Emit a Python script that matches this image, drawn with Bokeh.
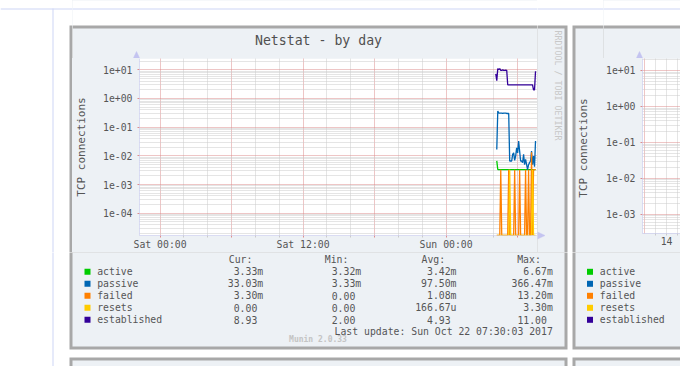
from math import pi
from bokeh.plotting import figure
from bokeh.layouts import row, column
from bokeh.core.properties import value
from bokeh.models import (Range1d, LinearScale, FixedTicker, Arrow, CustomJSTickFormatter)
from bokeh.embed import file_html
from bokeh.resources import INLINE

nan = float("nan")

# ---------------- data ----------------
series_names = ["active", "passive", "failed", "resets", "established"]
series_colors = ["#00CC00", "#0066B3", "#FF8000", "#FFCC00", "#330099"]

# 5-minute samples, hours since Sat 00:00 (last sample Sun 07:30)
sample_hours = [28.0 + 10 / 60 + 5 / 60 * i for i in range(41)]

active = [nan, 6.67e-3, 3.33e-3, 3.33e-3, 3.33e-3, 3.33e-3, 3.33e-3, 3.33e-3, 3.33e-3, 3.33e-3,
          3.33e-3, 3.33e-3, 3.33e-3, 3.33e-3, 3.33e-3, 3.33e-3, 3.33e-3, 3.33e-3, 3.33e-3, 3.33e-3,
          3.33e-3, 3.33e-3, 3.32e-3, 3.33e-3, 3.33e-3, 3.33e-3, 3.33e-3, 3.33e-3, 3.33e-3, 3.33e-3,
          3.33e-3, 3.33e-3, 3.33e-3, 3.33e-3, 3.33e-3, 3.33e-3, 3.33e-3, 3.33e-3, 3.33e-3, 3.33e-3,
          3.33e-3]
passive = [nan, 0.0166, 0.366, 0.31, 0.31, 0.31, 0.31, 0.30, 0.31, 0.31, 0.31, 0.30, 0.30, 0.30,
           0.0066, 0.0066, 0.0066, 0.0112, 0.0127, 0.0069, 0.0098, 0.019, 0.0127, 0.033, 0.0146,
           0.0066, 0.0066, 0.0058, 0.0112, 0.0049, 0.0075, 0.0050, 0.00333, 0.0049, 0.0058,
           0.0066, 0.0146, 0.0049, 0.0098, 0.0042, 0.03303]
failed = [nan, 0, 0, 0, 0, 3.3e-3, 0, 0, 0, 0, 0, 0, 0, 3.3e-3,
          0, 0, 0, 0, 0, 3.3e-3, 0, 0, 0, 0, 3.3e-3, 0, 0,
          0, 0, 0, 3.3e-3, 0, 0, 3.3e-3, 0, 0, 13.2e-3, 0, 3.3e-3, 3.3e-3, 3.3e-3]
resets = [nan, 0, 0, 0, 0, 0, 0, 0, 0, 0, 0, 0, 0, 0,
          3.3e-3, 0, 0, 0, 0, 0, 0, 0, 0, 0, 0, 0, 0,
          0, 0, 0, 0, 0, 0, 0, 0, 0, 0, 3.3e-3, 0, 0, 0]
established = [7.2, 4.2, 11.0, 10.2, 11.0, 9.6, 9.6, 10.0, 9.6, 9.6, 9.8, 9.6,
               3.0, 3.0, 3.0, 3.0, 3.0, 3.0, 3.0, 3.0, 3.0, 3.0, 3.0, 3.0, 3.0,
               3.0, 3.0, 3.0, 3.0, 3.0, 3.0, 3.0, 3.0, 3.0, 3.0, 3.0, 3.0, 3.0,
               2.0, 2.0, 8.93]
series_values = [active, passive, failed, resets, established]

column_headers = ["Cur:", "Min:", "Avg:", "Max:"]
cur_values = ["3.33m", "33.03m", "3.30m", "0.00", "8.93"]
min_values = ["3.32m", "3.33m", "0.00", "0.00", "2.00"]
avg_values = ["3.42m", "97.50m", "1.08m", "166.67u", "4.93"]
max_values = ["6.67m", "366.47m", "13.20m", "3.30m", "11.00"]

x_tick_labels = {0: "Sat 00:00", 6: "", 12: "Sat 12:00", 18: "", 24: "Sun 00:00", 30: ""}
y_decades = [1e-4, 1e-3, 1e-2, 1e-1, 1e0, 1e1]
week_tick_labels = {12: "14"}
week_decades = [1e-3, 1e-2, 1e-1, 1e0, 1e1]

title_text = "Netstat - by day"
y_title = "TCP connections"
last_update = "Last update: Sun Oct 22 07:30:03 2017"
watermark = "RRDTOOL / TOBI OETIKER"
footer = "Munin 2.0.33"

# ---------------- style ----------------
MONO = "DejaVu Sans Mono"
TXT = "#555555"
PANEL = "#EDF1F5"
BORDER = "#A8A8A8"
PAGE_LINE = "#CDD5F5"
AXIS = "#C4C4F0"
MAJ = "#DD8C8C"
MIN = "#CACACA"

# page decoration boxes in page pixels: (left, right, top, bottom, colour)
page_boxes = [
    (-10, 720, -10, 400, "white"),
    (0, 700, 8, 9, PAGE_LINE), (52, 53, 8, 400, PAGE_LINE),
    (69, 567, 25, 349, BORDER), (72, 564, 28, 346, PANEL),
    (572, 720, 25, 349, BORDER), (575, 720, 28, 346, PANEL),
    (69, 567, 357, 400, BORDER), (72, 564, 360, 400, PANEL),
    (572, 720, 357, 400, BORDER), (575, 720, 360, 400, PANEL),
]
# arrow heads of the axes (page pixels)
arrow_heads = [
    ([132.5, 139.5, 136.0], [58.5, 58.5, 51.0]),     # day plot, y axis
    ([537.0, 537.0, 544.5], [231.5, 238.5, 235.0]),  # day plot, x axis
    ([635.5, 642.5, 639.0], [58.5, 58.5, 51.0]),     # week plot, y axis
]
ON_TOP = {"position": "relative", "z-index": "5"}


def tile(w, h, x0, y0, styles=None):
    """A figure whose whole canvas is its frame, in page-pixel coordinates."""
    f = figure(width=w, height=h, x_range=Range1d(x0, x0 + w), y_range=Range1d(y0 + h, y0),
               output_backend="svg", toolbar_location=None, min_border=0,
               x_axis_location=None, y_axis_location=None, outline_line_color=None,
               background_fill_color=None, border_fill_color=None, frame_align=False,
               styles=styles or {})
    f.xgrid.visible = False
    f.ygrid.visible = False
    for l, r, t, b, c in page_boxes:
        f.quad(left=[l], right=[r], top=[t], bottom=[b], fill_color=c, line_color=None)
    for xs, ys in arrow_heads:
        f.patch(x=xs, y=ys, fill_color=AXIS, line_color=AXIS, line_width=0.5)
    return f


def txt(f, x, y, s, size="9.8px", align="left", color=TXT, angle=0.0, style="normal"):
    f.text(x=[x], y=[y], text=[s], text_font=value(MONO), text_font_size=value(size),
           text_color=color, text_align=align, text_baseline="middle", angle=angle,
           text_font_style=style)


def axis_line(fig, x0, y0, x1, y1):
    fig.add_layout(Arrow(end=None, x_start=x0, y_start=y0, x_end=x1, y_end=y1,
                         line_color=AXIS, line_width=1,
                         x_range_name="px", y_range_name="py"))


def white_frame(fig, l, r, t, b):
    fig.quad(left=[l], right=[r], top=[t], bottom=[b], fill_color="white", line_color=None,
             x_range_name="px", y_range_name="py", level="image")


def style_axis(ax, tick_color):
    ax.axis_line_color = None
    ax.major_label_text_font = MONO
    ax.major_label_text_font_size = "9.8px"
    ax.major_label_text_color = TXT
    ax.major_tick_line_color = tick_color
    ax.major_tick_in = 0
    ax.major_tick_out = 2
    ax.minor_tick_in = 0
    ax.minor_tick_out = 2
    ax.minor_tick_line_color = MIN


def style_grid(g):
    g.grid_line_color = MAJ
    g.grid_line_dash = "1 1"
    g.grid_line_width = 1
    g.minor_grid_line_color = MIN
    g.minor_grid_line_dash = "1 1"
    g.minor_grid_line_width = 1


exp_fmt = CustomJSTickFormatter(code=r"""
const s = tick.toExponential(0);
return s.replace(/e([+-])(\d)$/, (m, a, b) => 'e' + a + '0' + b);
""")
y_minor = [m * 10.0 ** e for e in range(-5, 2) for m in range(2, 10)]

# ---------------- main (day) plot: page x 72..537, y 58..252 ----------------
FL, FR, FT, FB = 136, 537, 58, 235
Y_LO = 10 ** (-4 - 22.3 / 28.68)
Y_HI = 10 ** (1 + 11.3 / 28.68)

p = figure(width=FR - 72, height=252 - FT, x_range=Range1d(-1.724, 31.666),
           y_range=Range1d(Y_LO, Y_HI),
           y_axis_type="log", output_backend="svg", toolbar_location=None,
           min_border_left=FL - 72, min_border_right=0, min_border_top=0,
           min_border_bottom=252 - FB, border_fill_color=PANEL,
           background_fill_color=None, outline_line_color=None, frame_align=False)
p.extra_x_ranges = {"px": Range1d(FL, FR)}
p.extra_y_ranges = {"py": Range1d(FB, FT)}
p.extra_x_scales = {"px": LinearScale()}
p.extra_y_scales = {"py": LinearScale()}
white_frame(p, FL, FR, FT, FB)

x_major = [0, 6, 12, 18, 24, 30]
x_minor = [2, 4, 8, 10, 14, 16, 20, 22, 26, 28]
p.xgrid.ticker = FixedTicker(ticks=x_major, minor_ticks=x_minor)
p.ygrid.ticker = FixedTicker(ticks=y_decades, minor_ticks=y_minor)
style_grid(p.xgrid[0])
style_grid(p.ygrid[0])

xa = p.xaxis[0]
xa.ticker = FixedTicker(ticks=x_major, minor_ticks=x_minor)
xa.major_label_overrides = x_tick_labels
ya = p.yaxis[0]
ya.ticker = FixedTicker(ticks=y_decades, minor_ticks=y_minor)
ya.formatter = exp_fmt
style_axis(xa, MAJ)
style_axis(ya, MAJ)
ya.minor_tick_line_color = None
ya.major_label_standoff = 5
xa.major_label_standoff = 1
ya.axis_label = y_title
ya.axis_label_text_font = MONO
ya.axis_label_text_font_size = "11px"
ya.axis_label_text_font_style = "normal"
ya.axis_label_text_color = TXT
ya.axis_label_standoff = 12

axis_line(p, FL, FB + 1, FL, FT)
axis_line(p, FL - 5, FB, FR, FB)

for vals, color in zip(series_values, series_colors):
    yplot = [Y_LO if v == 0 else v for v in vals]   # zero drawn on the bottom edge
    p.line(sample_hours, yplot, line_color=color, line_width=1.3)

# ---------------- week plot (partially visible): page x 603..680 ----------------
QL, QR, QT, QB = 639, 680, 58, 233
q = figure(width=680 - 603, height=252 - QT, x_range=Range1d(-1, 19.5),
           y_range=Range1d(10 ** (-3 - 19.3 / 36), 10 ** (1 + 12 / 36)),
           y_axis_type="log", output_backend="svg", toolbar_location=None,
           min_border_left=QL - 603, min_border_right=0, min_border_top=0,
           min_border_bottom=252 - QB, border_fill_color=PANEL,
           background_fill_color=None, outline_line_color=None, frame_align=False)
q.extra_x_ranges = {"px": Range1d(QL, QR)}
q.extra_y_ranges = {"py": Range1d(QB, QT)}
q.extra_x_scales = {"px": LinearScale()}
q.extra_y_scales = {"py": LinearScale()}
white_frame(q, QL, QR, QT, QB)
q.xgrid.ticker = FixedTicker(ticks=[0], minor_ticks=[6, 12, 18])
q.ygrid.ticker = FixedTicker(ticks=week_decades, minor_ticks=y_minor)
style_grid(q.xgrid[0])
style_grid(q.ygrid[0])
qx = q.xaxis[0]
qx.ticker = FixedTicker(ticks=[12], minor_ticks=[6, 18])
qx.major_label_overrides = week_tick_labels
qy = q.yaxis[0]
qy.ticker = FixedTicker(ticks=week_decades, minor_ticks=y_minor)
qy.formatter = exp_fmt
style_axis(qx, MIN)
style_axis(qy, MAJ)
qy.minor_tick_line_color = None
qy.major_label_standoff = 5
qx.major_label_standoff = 1
axis_line(q, QL, QB + 1, QL, QT)
axis_line(q, QL - 5, QB, QR, QB)

# ---------------- page tiles ----------------
left = tile(72, 252, 0, 0)
top = tile(FR - 72, FT, 72, 0)
txt(top, 318, 40, title_text, size="13.2px", align="center", color="#505050")

right = tile(603 - FR, 252, FR, 0, styles=ON_TOP)
txt(right, 557.5, 30, watermark, size="8.3px", align="left", color="#C8C8C8", angle=-pi / 2)
txt(right, 583.3, 147.5, y_title, size="11px", align="center", angle=pi / 2)

qtop = tile(680 - 603, QT, 603, 0)

bottom = tile(680, 366 - 252, 0, 252, styles=ON_TOP)
row_y = [271.3, 283.3, 295.3, 307.3, 319.3]
header_x = [228.3, 324.3, 421.0, 516.7]
col_right = [262.7, 360.7, 456.0, 552.3]
columns = [cur_values, min_values, avg_values, max_values]
for hx, h in zip(header_x, column_headers):
    txt(bottom, hx, 259.3, h)
bottom.quad(left=[84] * 5, right=[90] * 5, top=[y - 3 for y in row_y],
            bottom=[y + 3 for y in row_y], fill_color=series_colors, line_color=None)
bottom.quad(left=[586.5] * 5, right=[592.5] * 5, top=[y - 3 for y in row_y],
            bottom=[y + 3 for y in row_y], fill_color=series_colors, line_color=None)
for i, name in enumerate(series_names):
    y = row_y[i]
    txt(bottom, 96.7, y, name)
    txt(bottom, 599.3, y, name)
    for cx, col in zip(col_right, columns):
        s = col[i]
        xr = cx if s[-1].isalpha() else cx - 5.9
        txt(bottom, xr, y, s, align="right")
txt(bottom, 552.3, 330.7, last_update, align="right")
txt(bottom, 317.5, 338.5, footer, size="8px", align="center", color="#C4C4C4", style="bold")

panel_bg = {"background-color": PANEL}
layout = column(
    row(left, column(top, p, styles=panel_bg), right, column(qtop, q, styles=panel_bg)),
    bottom)
with open("out.html", "w") as f:
    f.write(file_html(layout, INLINE))
